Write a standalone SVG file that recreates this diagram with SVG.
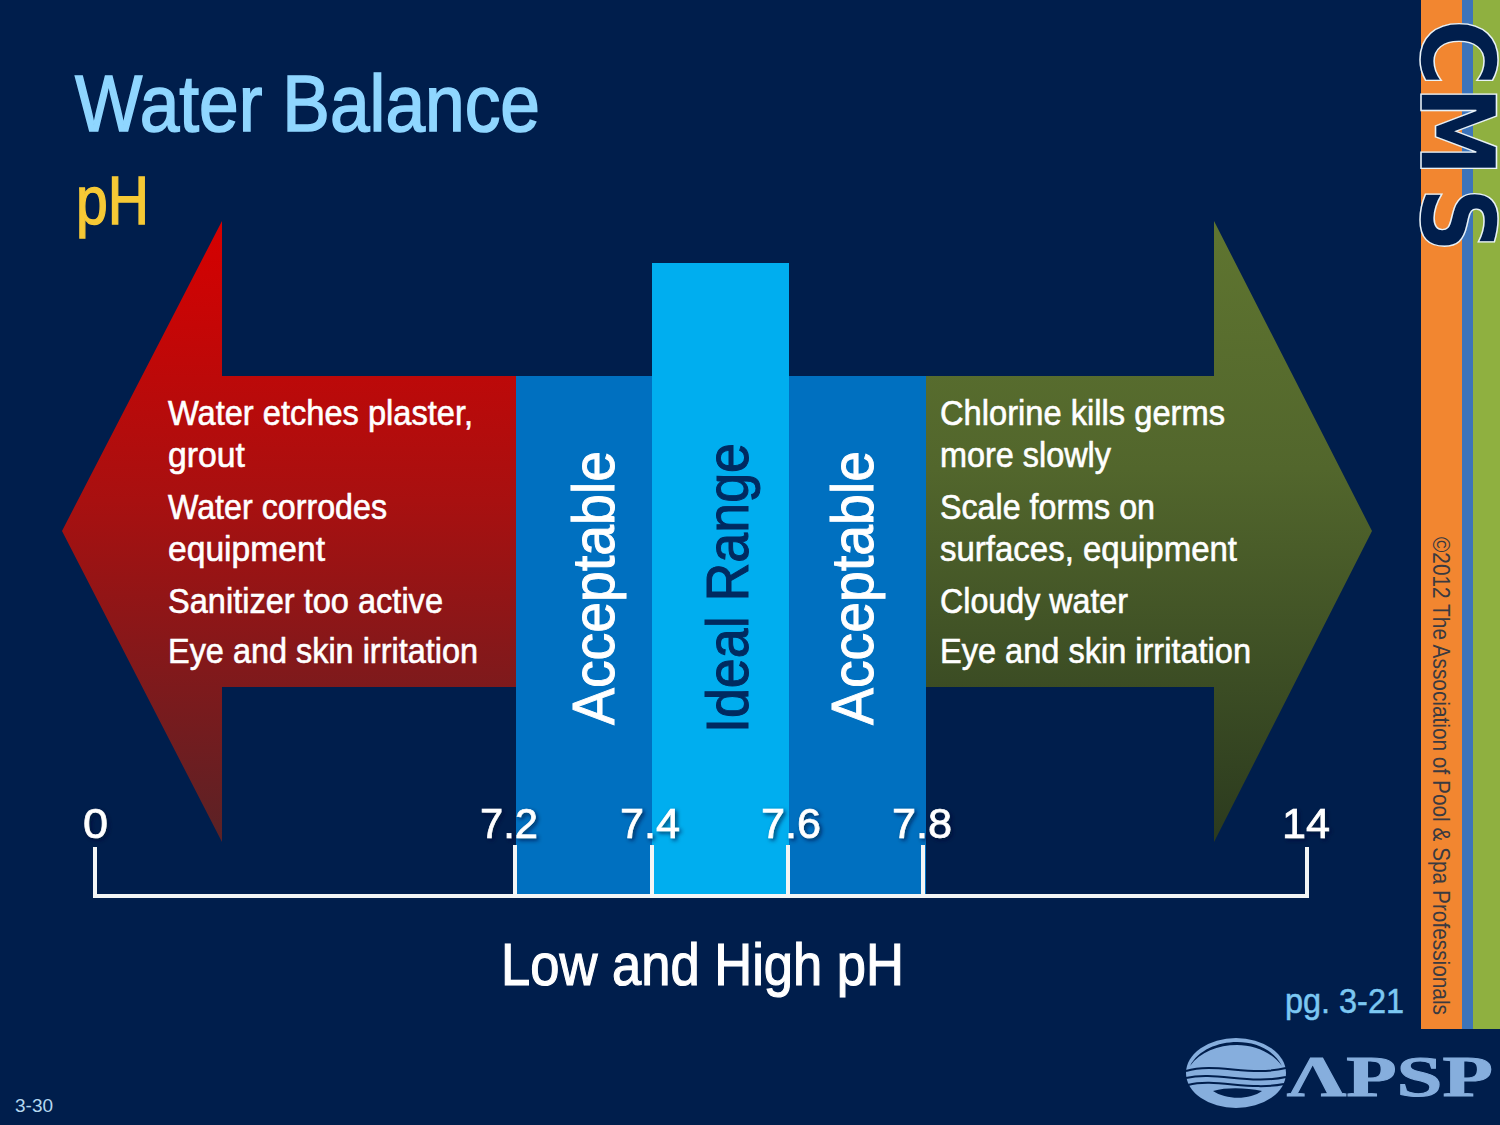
<svg xmlns="http://www.w3.org/2000/svg" width="1500" height="1125" viewBox="0 0 1500 1125">
<defs>
<linearGradient id="redG" gradientUnits="userSpaceOnUse" x1="0" y1="221" x2="0" y2="842"><stop offset="0" stop-color="#d60000"/><stop offset="0.45" stop-color="#a81010"/><stop offset="1" stop-color="#5a2226"/></linearGradient>
<linearGradient id="greenG" gradientUnits="userSpaceOnUse" x1="0" y1="221" x2="0" y2="842"><stop offset="0" stop-color="#5f7530"/><stop offset="0.4" stop-color="#52662c"/><stop offset="1" stop-color="#2b3a1e"/></linearGradient>
<filter id="sh" x="-20%" y="-20%" width="140%" height="140%"><feDropShadow dx="2" dy="2" stdDeviation="2" flood-color="#001030" flood-opacity="0.7"/></filter>
</defs>
<style>
text{font-family:"Liberation Sans Narrow","Liberation Sans",Arial,sans-serif}
.body{fill:#fff;stroke:#fff;stroke-width:0.6;font-size:35px}
.tick{fill:#fff;stroke:#fff;stroke-width:0.7;font-family:"Liberation Sans",Arial,sans-serif;font-size:43px;filter:url(#sh)}
.vert{font-family:"Liberation Sans",Arial,sans-serif;font-size:60px;stroke-width:1}
.axis{stroke:#f2f5f5;stroke-width:4;fill:none}
</style>
<rect width="1500" height="1125" fill="#001e4c"/>
<g id="sidebar">
<rect x="1421" y="0" width="41" height="1029" fill="#f28630"/>
<rect x="1462" y="0" width="11" height="1029" fill="#3d74ba"/>
<rect x="1473" y="0" width="27" height="1029" fill="#8fb040"/>
<text transform="translate(1421,19) rotate(90) scale(0.88,1)" font-weight="700" font-size="104" fill="#001e4c" stroke="#e8f2f8" stroke-width="1.5" x="0 76 191" style="font-family:'DejaVu Sans',sans-serif">CMS</text>
<text transform="translate(1433,537) rotate(90)" font-size="24" fill="#3a3a40" textLength="478" lengthAdjust="spacingAndGlyphs" style="font-family:'Liberation Sans',Arial,sans-serif">©2012 The Association of Pool &amp; Spa Professionals</text>
</g>
<g id="title"><text x="75" y="131" font-size="79" fill="#8fd6ff" stroke="#8fd6ff" stroke-width="1.6" textLength="465" lengthAdjust="spacingAndGlyphs">Water Balance</text></g>
<g id="subtitle"><text x="76" y="224" font-size="68" fill="#f6c935" stroke="#f6c935" stroke-width="1.4" textLength="73" lengthAdjust="spacingAndGlyphs">pH</text></g>
<g id="low-arrow">
<polygon points="62,531 222,221 222,376 516,376 516,687 222,687 222,842" fill="url(#redG)"/>
<text class="body" x="168" y="425" textLength="305" lengthAdjust="spacingAndGlyphs">Water etches plaster,</text>
<text class="body" x="168" y="467" textLength="77" lengthAdjust="spacingAndGlyphs">grout</text>
<text class="body" x="168" y="519" textLength="219" lengthAdjust="spacingAndGlyphs">Water corrodes</text>
<text class="body" x="168" y="561" textLength="157" lengthAdjust="spacingAndGlyphs">equipment</text>
<text class="body" x="168" y="613" textLength="275" lengthAdjust="spacingAndGlyphs">Sanitizer too active</text>
<text class="body" x="168" y="663" textLength="310" lengthAdjust="spacingAndGlyphs">Eye and skin irritation</text>
</g>
<g id="high-arrow">
<polygon points="1372,531 1214,221 1214,376 926,376 926,687 1214,687 1214,842" fill="url(#greenG)"/>
<text class="body" x="940" y="425" textLength="285" lengthAdjust="spacingAndGlyphs">Chlorine kills germs</text>
<text class="body" x="940" y="467" textLength="171" lengthAdjust="spacingAndGlyphs">more slowly</text>
<text class="body" x="940" y="519" textLength="215" lengthAdjust="spacingAndGlyphs">Scale forms on</text>
<text class="body" x="940" y="561" textLength="297" lengthAdjust="spacingAndGlyphs">surfaces, equipment</text>
<text class="body" x="940" y="613" textLength="188" lengthAdjust="spacingAndGlyphs">Cloudy water</text>
<text class="body" x="940" y="663" textLength="311" lengthAdjust="spacingAndGlyphs">Eye and skin irritation</text>
</g>
<g id="acceptable-low">
<rect x="516" y="376" width="136" height="519" fill="#0070c0"/>
<text class="vert" transform="translate(614,725) rotate(-90)" fill="#fff" stroke="#fff" textLength="274" lengthAdjust="spacingAndGlyphs">Acceptable</text>
</g>
<g id="acceptable-high">
<rect x="789" y="376" width="137" height="519" fill="#0070c0"/>
<text class="vert" transform="translate(873,725) rotate(-90)" fill="#fff" stroke="#fff" textLength="274" lengthAdjust="spacingAndGlyphs">Acceptable</text>
</g>
<g id="ideal-range">
<rect x="652" y="263" width="137" height="632" fill="#00aeef"/>
<text class="vert" transform="translate(748,733) rotate(-90)" fill="#002a60" stroke="#002a60" textLength="290" lengthAdjust="spacingAndGlyphs">Ideal Range</text>
</g>
<g id="connectors">
<path class="axis" d="M95,847V896H1307V847M515,845V896M652,845V896M788,845V896M923,845V896"/>
</g>
<g id="scale-labels">
<text class="tick" x="83" y="838" textLength="25" lengthAdjust="spacingAndGlyphs">0</text>
<text class="tick" x="480" y="838" textLength="58" lengthAdjust="spacingAndGlyphs">7.2</text>
<text class="tick" x="620" y="838" textLength="60" lengthAdjust="spacingAndGlyphs">7.4</text>
<text class="tick" x="761" y="838" textLength="60" lengthAdjust="spacingAndGlyphs">7.6</text>
<text class="tick" x="892" y="838" textLength="60" lengthAdjust="spacingAndGlyphs">7.8</text>
<text class="tick" x="1282" y="838" textLength="48" lengthAdjust="spacingAndGlyphs">14</text>
</g>
<g id="axis-title"><text x="501" y="985" font-size="60" fill="#fff" stroke="#fff" stroke-width="1.2" textLength="403" lengthAdjust="spacingAndGlyphs">Low and High pH</text></g>
<g id="page-ref"><text x="1285" y="1013" font-size="35" fill="#7cc8f2" stroke="#7cc8f2" stroke-width="0.5" textLength="119" lengthAdjust="spacingAndGlyphs">pg. 3-21</text></g>
<g id="apsp-logo">
<ellipse cx="1236" cy="1073" rx="50" ry="35" fill="#86aedd"/>
<path d="M1190,1066C1198,1050 1218,1042 1237,1042C1256,1042 1274,1050 1282,1066C1272,1052 1254,1045 1237,1045C1218,1045 1200,1052 1190,1066Z" fill="#001e4c"/>
<path d="M1186,1071C1215,1062 1250,1077 1286,1068M1186,1078C1215,1071 1250,1085 1286,1077M1188,1085C1215,1078 1250,1091 1284,1084" fill="none" stroke="#001e4c" stroke-width="2"/>
<path d="M1213,1091C1228,1087 1246,1088 1262,1091C1250,1100 1226,1100 1213,1091Z" fill="#001e4c"/>
<text x="1287" y="1096" font-size="58" font-weight="700" fill="#86aedd" stroke="#86aedd" stroke-width="1" textLength="206" lengthAdjust="spacingAndGlyphs" style="font-family:'Liberation Serif',serif">ΛPSP</text>
</g>
<g id="slide-number"><text x="15" y="1112" font-size="18" fill="#b5d8f0" textLength="38" lengthAdjust="spacingAndGlyphs" style="font-family:'Liberation Sans',Arial,sans-serif">3-30</text></g>
</svg>
